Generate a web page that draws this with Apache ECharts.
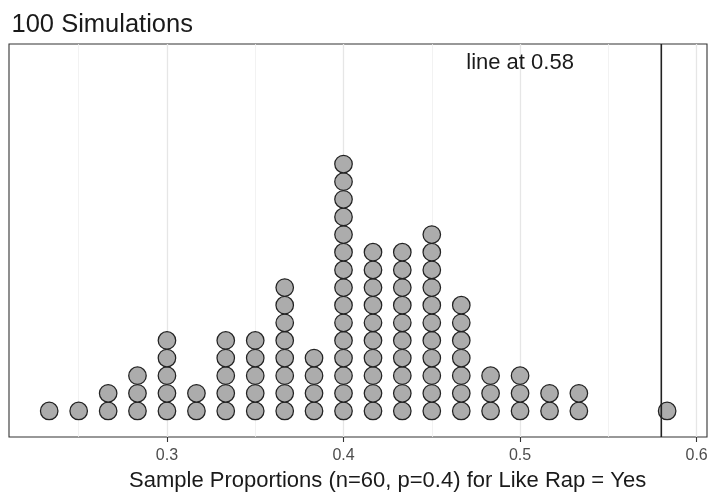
<!DOCTYPE html>
<html>
<head>
<meta charset="utf-8">
<script src="https://cdn.jsdelivr.net/npm/echarts@6/dist/echarts.min.js"></script>
<style>
html,body{margin:0;padding:0;background:#fff;}
#chart{width:716px;height:493px;}
</style>
</head>
<body>
<div id="chart"></div>
<script>
// Bin centres (sample proportions) and number of simulations in each bin
const proportions = [0.2333, 0.25, 0.2667, 0.2833, 0.3, 0.3167, 0.3333, 0.35, 0.3667, 0.3833,
                     0.4, 0.4167, 0.4333, 0.45, 0.4667, 0.4833, 0.5, 0.5167, 0.5333, 0.5833];
const counts      = [1, 1, 2, 3, 5, 2, 5, 5, 8, 4,
                     15, 10, 10, 11, 7, 3, 3, 2, 2, 1];
const tickLabels  = ['0.3', '0.4', '0.5', '0.6'];
const refLine     = 0.58;
const titleText   = '100 Simulations';
const xTitle      = 'Sample Proportions (n=60, p=0.4) for Like Rap = Yes';
const annotation  = 'line at ' + refLine;
const annotationPos = [0.5, 19.75];
const yRange = [-1.474, 20.805];

// stack dots: one point per simulation
const dots = [];
proportions.forEach(function (p, i) {
  for (let k = 0; k < counts[i]; k++) dots.push([p, k]);
});

const FONT = 'Liberation Sans';
const chart = echarts.init(document.getElementById('chart'), null, {renderer: 'canvas'});
chart.setOption({
  backgroundColor: '#ffffff',
  animation: false,
  title: {
    text: titleText, left: 6.5, top: 7,
    textStyle: {fontFamily: FONT, fontSize: 25.5, fontWeight: 'normal', color: '#1a1a1a'}
  },
  grid: [
    {left: -9.6, width: 794.5, top: 44, bottom: 56, show: false, outerBoundsMode: 'none', containLabel: false},
    {left: 9, right: 9, top: 44, bottom: 56, show: true, borderColor: '#333333', borderWidth: 1.1,
     backgroundColor: 'transparent', outerBoundsMode: 'none'}
  ],
  xAxis: [
    {
      type: 'value', gridIndex: 0, min: 0.2, max: 0.65, interval: 0.1,
      position: 'bottom',
      axisLine: {show: false, onZero: false},
      axisTick: {show: true, length: 5, lineStyle: {color: '#333333', width: 1.1}},
      axisLabel: {
        margin: 11, color: '#4d4d4d', fontFamily: FONT, fontSize: 16,
        showMinLabel: false, showMaxLabel: false,
        formatter: function (v) {
          const s = v.toFixed(1);
          return tickLabels.indexOf(s) >= 0 && Math.abs(v - parseFloat(s)) < 1e-6 ? s : '';
        }
      },
      splitLine: {show: true, lineStyle: {color: '#e6e6e6', width: 1.3}},
      minorTick: {show: false, splitNumber: 2},
      minorSplitLine: {show: true, lineStyle: {color: '#efefef', width: 0.8}},
      name: xTitle, nameLocation: 'middle', nameGap: 33,
      nameTextStyle: {fontFamily: FONT, fontSize: 22, color: '#1a1a1a'}
    },
    {type: 'value', gridIndex: 1, show: false, min: 0, max: 1}
  ],
  yAxis: [
    {type: 'value', gridIndex: 0, min: yRange[0], max: yRange[1], show: false, splitLine: {show: false}},
    {type: 'value', gridIndex: 1, show: false, min: 0, max: 1, splitLine: {show: false}}
  ],
  series: [{
    type: 'scatter',
    xAxisIndex: 0, yAxisIndex: 0,
    data: dots,
    symbol: 'circle',
    symbolSize: 17.5,
    itemStyle: {color: '#acacac', borderColor: '#222222', borderWidth: 1.25, opacity: 1}
  }, {
    type: 'line',
    xAxisIndex: 0, yAxisIndex: 0,
    silent: true,
    data: [[refLine, yRange[0]], [refLine, yRange[1]]],
    symbol: 'none',
    lineStyle: {color: '#222222', width: 1.6, type: 'solid'},
    markPoint: {
      silent: true, symbol: 'rect', symbolSize: 1,
      itemStyle: {color: 'rgba(0,0,0,0)'},
      label: {show: true, position: 'inside', formatter: annotation,
              fontFamily: FONT, fontSize: 22, color: '#1a1a1a'},
      data: [{coord: annotationPos}]
    }
  }]
});
</script>
</body>
</html>
